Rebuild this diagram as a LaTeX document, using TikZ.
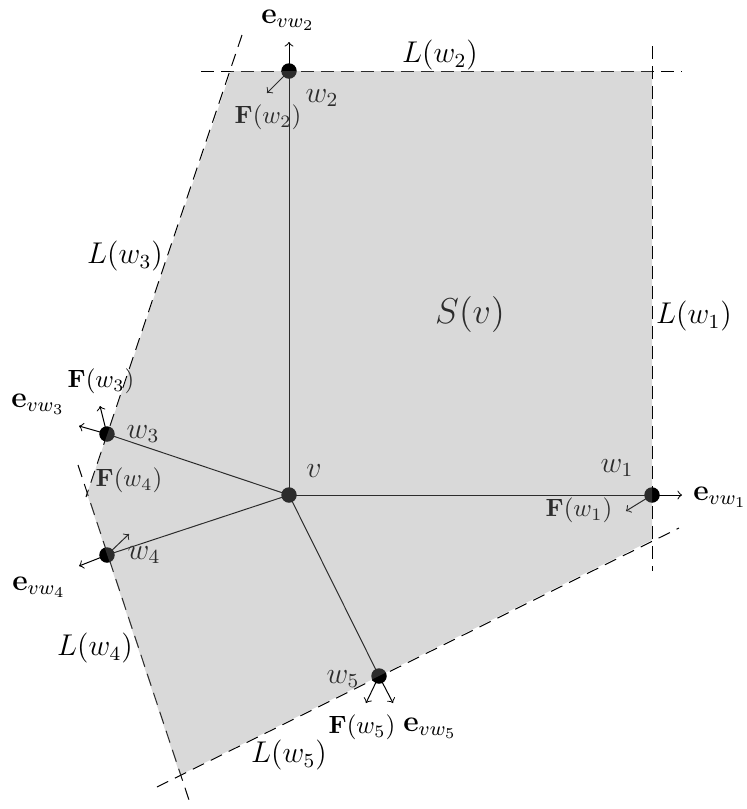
\documentclass[tikz,border=0pt]{standalone}
\begin{document}
\begin{tikzpicture}[x=0.4pt,y=-0.4pt,
  lab/.style={font=\large, inner sep=0pt},
  flab/.style={font=\normalsize, inner sep=0pt},
  slab/.style={font=\Large, inner sep=0pt},
  vec/.style={->},
  bnd/.style={dash pattern=on 5pt off 3pt},
  region/.style={fill=black!46, fill opacity=0.32, draw=none}]
\useasboundingbox (0,0) rectangle (747,809);
% points
\coordinate (v) at (289,495);
\coordinate (w1) at (652,495);
\coordinate (w2) at (289,71);
\coordinate (w3) at (107,434);
\coordinate (w4) at (107,555);
\coordinate (w5) at (379,676);
% vector tips
\coordinate (e1) at (682,495); \coordinate (f1) at (626,511);
\coordinate (e2) at (289,42);  \coordinate (f2) at (267,93);
\coordinate (e3) at (79,426);  \coordinate (f3) at (100,406);
\coordinate (e4) at (79,566);  \coordinate (f4) at (129,534);
\coordinate (e5) at (393,703); \coordinate (f5) at (366,703);
% polygon corners
\coordinate (p1) at (231,71);
\coordinate (p2) at (652,71);
\coordinate (p3) at (652,540);
\coordinate (p4) at (180,775);
\coordinate (p5) at (87,494);
% boundary line ends
\coordinate (a2) at (201,71);  \coordinate (b2) at (682,71);
\coordinate (a1) at (652,46);  \coordinate (b1) at (652,571);
\coordinate (a3) at (242,35);  \coordinate (b3) at (86,497);
\coordinate (a4) at (78,465);  \coordinate (b4) at (191,806);
\coordinate (a5) at (157,787); \coordinate (b5) at (679,528);
% boundary lines
\draw[bnd] (a2) -- (b2);
\draw[bnd] (a1) -- (b1);
\draw[bnd] (a3) -- (b3);
\draw[bnd] (a4) -- (b4);
\draw[bnd] (a5) -- (b5);
% edges
\draw (v) -- (w1);
\draw (v) -- (w2);
\draw (v) -- (w3);
\draw (v) -- (w4);
\draw (v) -- (w5);
% vectors
\foreach \i in {1,...,5}{
  \draw[vec] (w\i) -- (e\i);
  \draw[vec] (w\i) -- (f\i);
}
% dots
\foreach \p in {v,w1,w2,w3,w4,w5}{
  \fill (\p) circle (3.1pt);
}
% labels
\node[slab] (Sv) at (470,314) {$S(v)$};
\node[lab] (lv) at (314,471) {$v$};
\node[lab] (lw1) at (617,468) {$w_1$};
\node[lab] (lw2) at (322,98) {$w_2$};
\node[lab] (lw3) at (143,434) {$w_3$};
\node[lab] (lw4) at (144,555) {$w_4$};
\node[lab] (lw5) at (343,679) {$w_5$};
\node[lab] (L1) at (694,316) {$L(w_1)$};
\node[lab] (L2) at (440,55) {$L(w_2)$};
\node[lab] (L3) at (125,256) {$L(w_3)$};
\node[lab] (L4) at (95,648) {$L(w_4)$};
\node[lab] (L5) at (289,755) {$L(w_5)$};
\node[lab] (E1) at (720,497) {$\mathbf{e}_{vw_1}$};
\node[lab] (E2) at (288,20) {$\mathbf{e}_{vw_2}$};
\node[lab] (E3) at (38,404) {$\mathbf{e}_{vw_3}$};
\node[lab] (E4) at (39,587) {$\mathbf{e}_{vw_4}$};
\node[lab] (E5) at (430,728) {$\mathbf{e}_{vw_5}$};
\node[flab] (F1) at (579,510) {$\mathbf{F}(w_1)$};
\node[flab] (F2) at (268,117) {$\mathbf{F}(w_2)$};
\node[flab] (F3) at (101,381) {$\mathbf{F}(w_3)$};
\node[flab] (F4) at (129,480) {$\mathbf{F}(w_4)$};
\node[flab] (F5) at (362,727) {$\mathbf{F}(w_5)$};
% region S(v), laid over everything
\path[region] (p1) -- (p2) -- (p3) -- (p4) -- (p5) -- cycle;
\end{tikzpicture}
\end{document}
